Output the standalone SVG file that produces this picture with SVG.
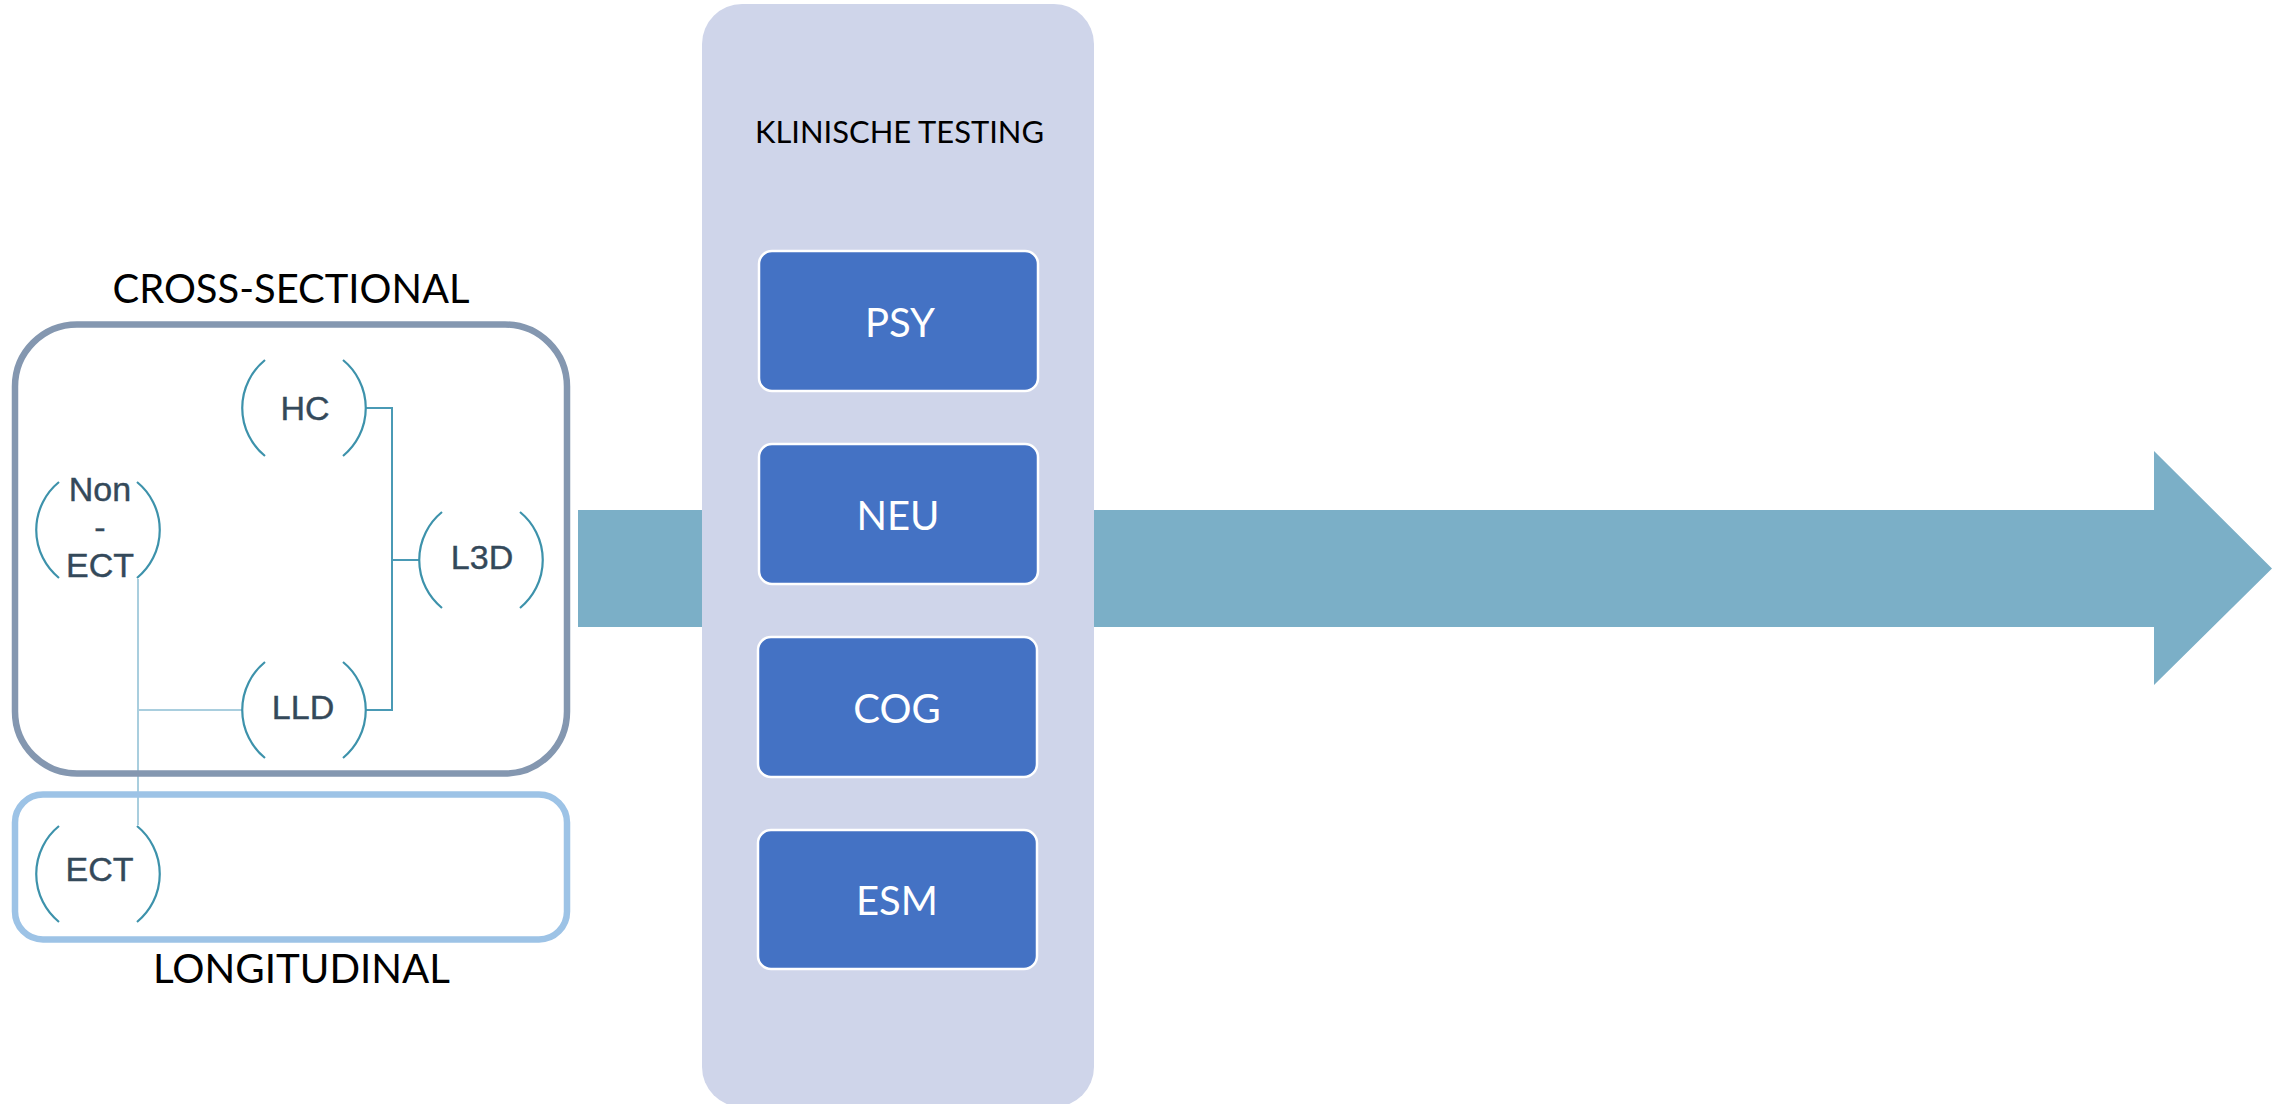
<svg xmlns="http://www.w3.org/2000/svg" xmlns:xlink="http://www.w3.org/1999/xlink" width="2285" height="1104" viewBox="0 0 2285 1104">
  <style>
    .heading { font-family: Lato, "Open Sans", "Liberation Sans", sans-serif; fill: #000000; text-anchor: middle; }
    .node-label { font-family: "Liberation Sans", Arial, sans-serif; font-size: 34px; fill: #34495a; text-anchor: middle; stroke: #34495a; stroke-width: 0.4; }
    .paren { fill: none; stroke: #3d92ab; stroke-width: 2.2; }
    .test-box { fill: #4472c4; stroke: #ffffff; stroke-width: 2.5; }
    .test-label { font-family: Lato, "Open Sans", "Liberation Sans", sans-serif; font-size: 40px; fill: #ffffff; text-anchor: middle; }
    .link { fill: none; stroke: #4a9ab5; stroke-width: 2; }
    .link-light { fill: none; stroke: #a9cede; stroke-width: 2; }
  </style>
  <defs>
    <!-- a pair of parenthesis arcs around a node centre (0,0), radius 62 -->
    <path id="paren" d="M -39 -48 A 62 62 0 0 0 -39 48 M 39 -48 A 62 62 0 0 1 39 48"/>
  </defs>

  <rect width="2285" height="1104" fill="#ffffff"/>

  <!-- timeline arrow behind the testing column -->
  <g id="timeline-arrow">
    <path d="M 578 510 H 2154 V 451 L 2272 568.5 L 2154 685 V 627 H 578 Z" fill="#7bafc7"/>
  </g>

  <!-- clinical testing column -->
  <g id="clinical-testing">
    <rect x="702" y="4" width="392" height="1103" rx="40" fill="#cfd5ea"/>
    <text class="heading" x="899.5" y="143" font-size="31" textLength="289" lengthAdjust="spacingAndGlyphs">KLINISCHE TESTING</text>
  </g>
  <g id="test-psy">
    <rect class="test-box" x="759" y="251" width="279" height="140" rx="13"/>
    <text class="test-label" x="900" y="337">PSY</text>
  </g>
  <g id="test-neu">
    <rect class="test-box" x="759" y="444" width="279" height="140" rx="13"/>
    <text class="test-label" x="898" y="530">NEU</text>
  </g>
  <g id="test-cog">
    <rect class="test-box" x="758" y="637" width="279" height="140" rx="13"/>
    <text class="test-label" x="897" y="723">COG</text>
  </g>
  <g id="test-esm">
    <rect class="test-box" x="758" y="830" width="279" height="139" rx="13"/>
    <text class="test-label" x="897" y="915">ESM</text>
  </g>

  <!-- connectors between the study groups -->
  <g id="connectors">
    <path class="link-light" d="M 138 579 V 825"/>
    <path class="link-light" d="M 138 710 H 242"/>
    <path class="link" d="M 366 408 H 392 V 710 H 366"/>
    <path class="link" d="M 392 560 H 419" stroke-width="3.5"/>
  </g>

  <!-- study design frames -->
  <g id="cross-sectional">
    <rect x="15" y="324.5" width="552" height="449" rx="62" fill="none" stroke="#8497b0" stroke-width="6.5"/>
    <text class="heading" x="291" y="303" font-size="40" textLength="357" lengthAdjust="spacingAndGlyphs">CROSS-SECTIONAL</text>
  </g>
  <g id="longitudinal">
    <rect x="15" y="794.5" width="552" height="145" rx="28" fill="none" stroke="#9dc3e6" stroke-width="6.5"/>
    <text class="heading" x="301.5" y="983" font-size="40" textLength="297" lengthAdjust="spacingAndGlyphs">LONGITUDINAL</text>
  </g>

  <!-- study groups -->
  <g id="node-hc">
    <use xlink:href="#paren" href="#paren" class="paren" x="304" y="408"/>
    <text class="node-label" x="305" y="420">HC</text>
  </g>
  <g id="node-l3d">
    <use xlink:href="#paren" href="#paren" class="paren" x="481" y="560"/>
    <text class="node-label" x="482" y="569">L3D</text>
  </g>
  <g id="node-lld">
    <use xlink:href="#paren" href="#paren" class="paren" x="304" y="710"/>
    <text class="node-label" x="303" y="719">LLD</text>
  </g>
  <g id="node-non-ect">
    <use xlink:href="#paren" href="#paren" class="paren" x="98" y="530"/>
    <text class="node-label" x="100" y="501">Non</text>
    <text class="node-label" x="100" y="539">-</text>
    <text class="node-label" x="100" y="577">ECT</text>
  </g>
  <g id="node-ect">
    <use xlink:href="#paren" href="#paren" class="paren" x="98" y="874"/>
    <text class="node-label" x="99.5" y="881">ECT</text>
  </g>
</svg>
